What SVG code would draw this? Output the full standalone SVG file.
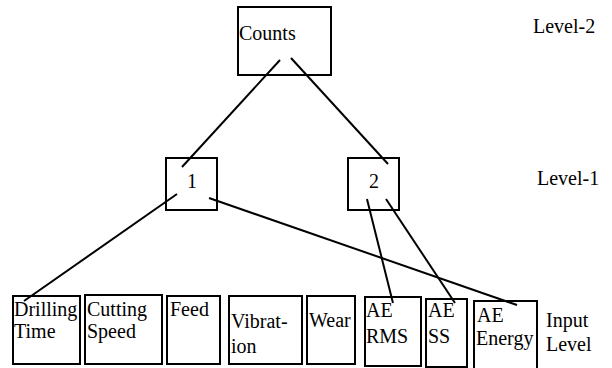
<svg xmlns="http://www.w3.org/2000/svg" width="612" height="368" viewBox="0 0 612 368">
  <style>
    .box { fill: #fff; stroke: #000; stroke-width: 2; }
    .edge { stroke: #000; stroke-width: 2; fill: none; }
    text { font-family: "Liberation Serif", "Times New Roman", serif; font-size: 20px; fill: #000; }
  </style>
  <rect width="612" height="368" fill="#fff"/>

  <!-- top level -->
  <g id="counts">
    <rect class="box" x="238" y="7" width="93" height="68"/>
    <text x="239" y="40">Counts</text>
  </g>

  <!-- middle level -->
  <g id="node1">
    <rect class="box" x="166" y="158" width="51" height="52"/>
    <text x="192" y="188" text-anchor="middle">1</text>
  </g>
  <g id="node2">
    <rect class="box" x="348" y="158" width="51" height="52"/>
    <text x="374" y="188" text-anchor="middle">2</text>
  </g>

  <!-- input level -->
  <g id="drilling-time">
    <rect class="box" x="13" y="296" width="67" height="68"/>
    <text x="14" y="316">Drilling</text>
    <text x="14" y="338">Time</text>
  </g>
  <g id="cutting-speed">
    <rect class="box" x="85" y="295" width="77" height="69"/>
    <text x="87" y="316">Cutting</text>
    <text x="87" y="338">Speed</text>
  </g>
  <g id="feed">
    <rect class="box" x="167" y="296" width="53" height="68"/>
    <text x="170" y="316">Feed</text>
  </g>
  <g id="vibration">
    <rect class="box" x="229" y="296" width="73" height="68"/>
    <text x="231" y="328">Vibrat-</text>
    <text x="231" y="353">ion</text>
  </g>
  <g id="wear">
    <rect class="box" x="307" y="296" width="48" height="68"/>
    <text x="309" y="327">Wear</text>
  </g>
  <g id="ae-rms">
    <rect class="box" x="365" y="297" width="56" height="69"/>
    <text x="366" y="317">AE</text>
    <text x="366" y="343">RMS</text>
  </g>
  <g id="ae-ss">
    <rect class="box" x="426" y="299" width="41" height="68"/>
    <text x="428" y="317">AE</text>
    <text x="428" y="343">SS</text>
  </g>
  <g id="ae-energy">
    <rect class="box" x="474" y="301" width="63" height="72"/>
    <text x="477" y="322">AE</text>
    <text x="476" y="345">Energy</text>
  </g>

  <!-- level labels -->
  <g id="labels">
    <text x="533" y="33">Level-2</text>
    <text x="537" y="185">Level-1</text>
    <text x="546" y="327">Input</text>
    <text x="546" y="351">Level</text>
  </g>

  <!-- connectors -->
  <g id="connectors">
    <line class="edge" x1="280" y1="60" x2="182" y2="167"/>
    <line class="edge" x1="291" y1="58" x2="388" y2="164"/>
    <line class="edge" x1="177" y1="194" x2="24" y2="301"/>
    <line class="edge" x1="209" y1="198" x2="517" y2="305"/>
    <line class="edge" x1="367" y1="199" x2="393" y2="303"/>
    <line class="edge" x1="386" y1="199" x2="455" y2="303"/>
  </g>
</svg>
